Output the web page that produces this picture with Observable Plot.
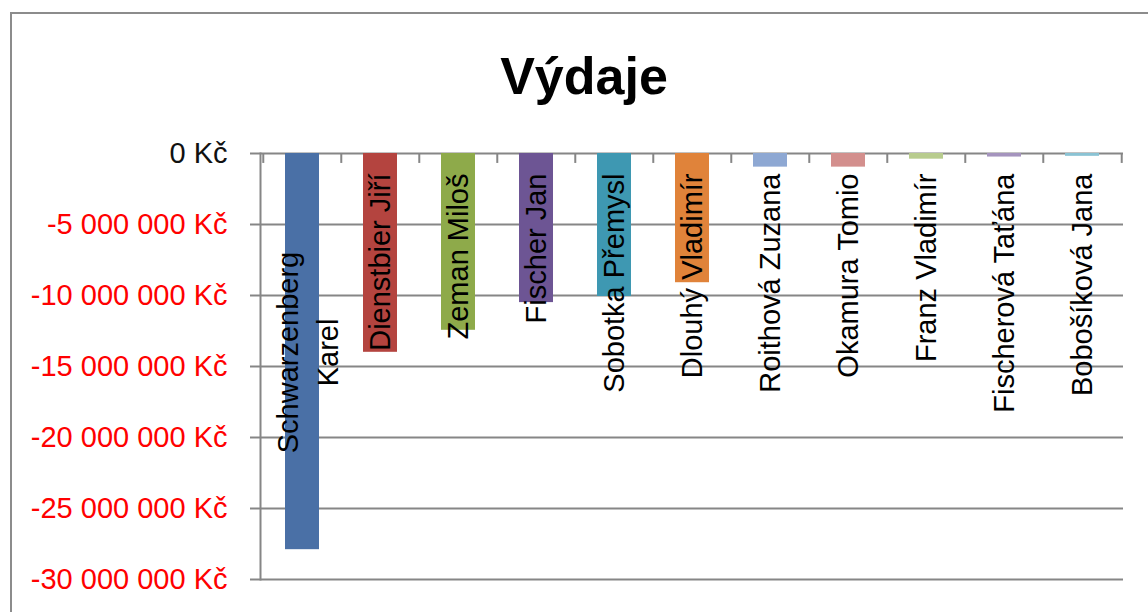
<!DOCTYPE html>
<html>
<head>
<meta charset="utf-8">
<script src="https://cdn.jsdelivr.net/npm/d3@7"></script>
<script src="https://cdn.jsdelivr.net/npm/@observablehq/plot@0.6"></script>
<style>
  html, body { margin: 0; padding: 0; background: #fff; }
  #wrap { position: relative; width: 1148px; height: 612px; overflow: hidden; background: #fff; }
  #border { position: absolute; left: 10px; top: 12px; width: 1200px; height: 700px;
            border-top: 2px solid #8c8c8c; border-left: 2px solid #8c8c8c; box-sizing: border-box; }
  #title { position: absolute; left: 0; top: 50px; width: 1168px; text-align: center;
           font-family: "Liberation Sans", Arial, sans-serif; font-weight: bold; font-size: 52px;
           line-height: 52px; color: #000; }
  #chart { position: absolute; left: 0; top: 0; }
</style>
</head>
<body>
<div id="wrap">
  <div id="border"></div>
  <div id="title">Výdaje</div>
  <div id="chart"></div>
</div>
<script>
const names = ["Schwarzenberg Karel", "Dienstbier Jiří", "Zeman Miloš", "Fischer Jan", "Sobotka Přemysl",
  "Dlouhý Vladimír", "Roithová Zuzana", "Okamura Tomio", "Franz Vladimír", "Fischerová Taťána", "Bobošíková Jana"];
const values = [-27.9e6, -14.0e6, -12.45e6, -10.5e6, -10.07e6, -9.1e6, -0.96e6, -0.96e6, -0.4e6, -0.25e6, -0.2e6];
const colors = ["#4A70A6", "#B4443F", "#8EAA4A", "#6D5594", "#3E98B2", "#E0833A",
  "#8EA8D3", "#D38F8D", "#B8CC8E", "#A594BE", "#8AC3D4"];
const yTicks = [0, -5e6, -10e6, -15e6, -20e6, -25e6, -30e6];

const data = names.map((n, i) => ({name: n, value: values[i]}));
const fmt = d => (d < 0 ? "-" : "") + d3.format(",")(Math.abs(d)).replace(/,/g, " ") + " Kč";

const W = 1148, H = 612, ML = 260, MR = 25, MT = 153, MB = 33;
const bw = (W - ML - MR) / names.length;
const grid = "#868686";
const font = 29;

const chart = Plot.plot({
  width: W, height: H,
  marginLeft: ML, marginRight: MR, marginTop: MT, marginBottom: MB,
  style: {fontFamily: "'Liberation Sans', Arial, sans-serif", fontSize: font + "px", background: "transparent", overflow: "visible"},
  x: {domain: names, paddingInner: 0.57, paddingOuter: 0.285, axis: null},
  y: {domain: [-30e6, 0], axis: null},
  color: {domain: names, range: colors},
  marks: [
    Plot.gridY(yTicks, {stroke: grid, strokeOpacity: 1, strokeWidth: 2}),
    Plot.axisY(yTicks.filter(d => d !== 0), {tickSize: 10, tickPadding: 23, tickFormat: fmt, fill: "#ff0000", stroke: grid, strokeWidth: 2, fontSize: font, label: null}),
    Plot.axisY([0], {tickSize: 10, tickPadding: 23, tickFormat: fmt, fill: "#111", stroke: grid, strokeWidth: 2, fontSize: font, label: null}),
    Plot.barY(data, {x: "name", y: "value", fill: "name"}),
    Plot.frame({anchor: "left", stroke: grid, strokeWidth: 2}),
    Plot.ruleX(names, {x: d => d, y1: 0, y2: -0.7e6, dx: -bw / 2, stroke: grid, strokeWidth: 2}),
    Plot.ruleX(names.slice(-1), {x: d => d, y1: 0, y2: -0.7e6, dx: bw / 2, stroke: grid, strokeWidth: 2}),
    Plot.text(data.slice(1), {x: "name", y: 0, text: "name", rotate: -90, textAnchor: "end", lineAnchor: "middle", dy: 20, fill: "#000", fontSize: font}),
    Plot.text(data.slice(0, 1), {x: "name", y: 0, text: d => d.name.replace(" ", "\n"), rotate: -90, textAnchor: "middle", lineAnchor: "middle", lineHeight: 1.35, dy: 199, dx: 3, fill: "#000", fontSize: font})
  ]
});
document.getElementById("chart").appendChild(chart);
</script>
</body>
</html>
